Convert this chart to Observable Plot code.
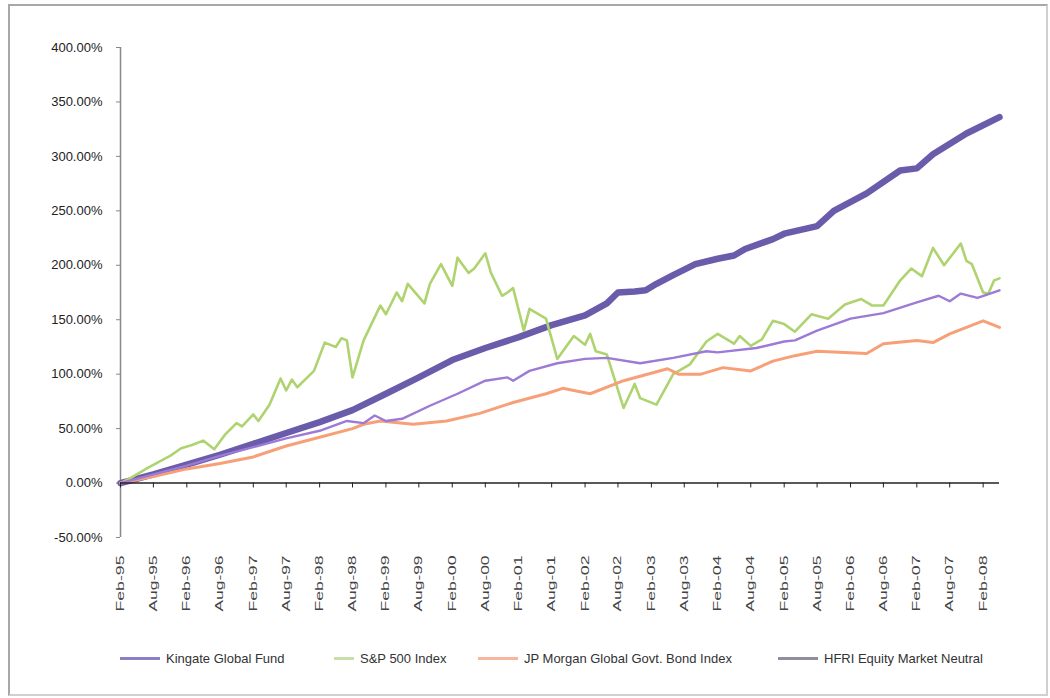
<!DOCTYPE html>
<html><head><meta charset="utf-8">
<script src="https://cdn.jsdelivr.net/npm/d3@7"></script>
<script src="https://cdn.jsdelivr.net/npm/@observablehq/plot@0.6"></script>
<style>
body{margin:0;background:#fff;font-family:"Liberation Sans",Arial,sans-serif;}
#frame{position:absolute;left:8px;top:4px;width:1040px;height:692px;border:2px solid #a8a8a8;border-right-color:#d0d0d0;border-bottom-color:#d0d0d0;box-sizing:border-box;}
#chart{position:absolute;left:0;top:0;}
#legend{position:absolute;top:648px;left:0;width:1050px;height:20px;font-size:13px;color:#333;}
.item{position:absolute;top:0;height:20px;display:flex;align-items:center;white-space:nowrap;}
.sw{display:inline-block;width:40px;height:0;border-top:3px solid;margin-right:6px;}
</style>
</head><body>
<div id="frame"></div>
<div id="chart"></div>
<div id="legend"></div>
<script>
// ---- data ----
const seriesNames = ["Kingate Global Fund","S&P 500 Index","JP Morgan Global Govt. Bond Index","HFRI Equity Market Neutral"];
const seriesColors = ["#6a5cab","#aed36f","#f7a077","#9c7ad6"];
const legendColors = ["#8a80c8","#c8dfa8","#f6b79c","#8e8e9e"];

const kingateMonths = ["1995-02","1995-08","1996-02","1996-08","1997-02","1997-08","1998-02","1998-08","1999-02","1999-08","2000-02","2000-08","2001-02","2001-08","2002-02","2002-06","2002-08","2002-11","2003-01","2003-03","2003-06","2003-10","2004-02","2004-05","2004-07","2004-12","2005-02","2005-08","2005-11","2006-05","2006-11","2007-02","2007-05","2007-11","2008-05"];
const kingateValues = [0,8,17,26,36,46,56,67,82,97,113,124,134,145,154,165,175,176,177,183,191,201,206,209,215,224,229,236,250,266,287,289,302,321,336];

const spMonths = ["1995-02","1995-04","1995-07","1995-11","1996-01","1996-03","1996-05","1996-07","1996-09","1996-11","1996-12","1997-02","1997-03","1997-05","1997-07","1997-08","1997-09","1997-10","1997-12","1998-01","1998-03","1998-05","1998-06","1998-07","1998-08","1998-10","1999-01","1999-02","1999-04","1999-05","1999-06","1999-09","1999-10","1999-12","2000-02","2000-03","2000-05","2000-06","2000-08","2000-09","2000-11","2000-12","2001-01","2001-03","2001-04","2001-07","2001-09","2001-12","2002-02","2002-03","2002-04","2002-06","2002-09","2002-11","2002-12","2003-03","2003-06","2003-09","2003-12","2004-02","2004-05","2004-06","2004-08","2004-10","2004-12","2005-02","2005-04","2005-07","2005-10","2006-01","2006-04","2006-06","2006-08","2006-11","2007-01","2007-03","2007-05","2007-07","2007-10","2007-11","2007-12","2008-02","2008-03","2008-04","2008-05"];
const spValues = [0,5,14,25,32,35,39,31,45,55,52,63,57,72,96,85,95,88,98,103,129,125,133,131,97,131,163,155,175,167,183,165,183,201,181,207,193,197,211,193,172,175,179,140,160,151,114,135,127,137,121,118,69,91,78,72,100,109,130,137,128,135,126,132,149,146,139,155,151,164,169,163,163,186,197,190,216,200,220,204,201,175,174,186,188];

const bondMonths = ["1995-02","1995-08","1996-02","1996-08","1997-02","1997-08","1998-02","1998-08","1998-10","1999-01","1999-07","2000-01","2000-07","2001-01","2001-07","2001-10","2002-02","2002-03","2002-09","2003-05","2003-07","2003-11","2004-03","2004-08","2004-12","2005-04","2005-08","2006-05","2006-08","2007-02","2007-05","2007-08","2008-02","2008-05"];
const bondValues = [0,6,13,18,24,34,42,50,54,57,54,57,64,74,82,87,83,82,94,105,100,100,106,103,112,117,121,119,128,131,129,137,149,143];

const hfriMonths = ["1995-02","1995-08","1996-02","1996-08","1997-02","1997-08","1998-02","1998-07","1998-10","1998-12","1999-02","1999-05","1999-10","2000-03","2000-08","2000-12","2001-01","2001-04","2001-09","2002-02","2002-06","2002-12","2003-06","2003-12","2004-02","2004-09","2005-02","2005-04","2005-08","2006-02","2006-08","2007-02","2007-06","2007-08","2007-10","2008-01","2008-05"];
const hfriValues = [0,8,16,25,33,41,48,57,55,62,57,59,71,82,94,97,94,103,110,114,115,110,115,121,120,124,130,131,140,151,156,166,172,167,174,170,177];

const xTickLabels = ["Feb-95","Aug-95","Feb-96","Aug-96","Feb-97","Aug-97","Feb-98","Aug-98","Feb-99","Aug-99","Feb-00","Aug-00","Feb-01","Aug-01","Feb-02","Aug-02","Feb-03","Aug-03","Feb-04","Aug-04","Feb-05","Aug-05","Feb-06","Aug-06","Feb-07","Aug-07","Feb-08"];
const yTicks = [-50,0,50,100,150,200,250,300,350,400];

// ---- build ----
const parse = d3.utcParse("%Y-%m");
const tickParse = d3.utcParse("%b-%y");
const toRows = (months, values) => months.map((m, i) => ({date: parse(m), value: values[i]}));
const kingate = toRows(kingateMonths, kingateValues);
const sp = toRows(spMonths, spValues);
const bond = toRows(bondMonths, bondValues);
const hfri = toRows(hfriMonths, hfriValues);
const tickDates = xTickLabels.map(tickParse);
const x0 = parse(kingateMonths[0]);
const x1 = parse(kingateMonths[kingateMonths.length - 1]);

const chart = Plot.plot({
  width: 1050,
  height: 630,
  marginLeft: 120,
  marginRight: 51,
  marginTop: 47,
  marginBottom: 93,
  style: {fontFamily: '"Liberation Sans", Arial, sans-serif', background: "transparent", color: "#222"},
  x: {type: "utc", domain: [x0, x1]},
  y: {domain: [-50, 400]},
  marks: [
    Plot.axisY({ticks: yTicks, tickFormat: d => d.toFixed(2) + "%", tickSize: 4, tickPadding: 14, fontSize: 13, label: null, stroke: "#888", fill: "#222"}),
    Plot.axisX({ticks: tickDates, tickFormat: (d, i) => xTickLabels[i], tickRotate: -90, tickSize: 0, tickPadding: 18, fontSize: 11, label: null, fill: "#444"}),
    Plot.ruleX([x0], {stroke: "#888", strokeWidth: 1.5}),
    Plot.line(kingate, {x: "date", y: "value", stroke: seriesColors[0], strokeWidth: 6.5, strokeLinejoin: "round"}),
    Plot.line(sp, {x: "date", y: "value", stroke: seriesColors[1], strokeWidth: 2.6, strokeLinejoin: "round"}),
    Plot.line(bond, {x: "date", y: "value", stroke: seriesColors[2], strokeWidth: 3, strokeLinejoin: "round"}),
    Plot.line(hfri, {x: "date", y: "value", stroke: seriesColors[3], strokeWidth: 2.4, strokeLinejoin: "round"}),
    Plot.ruleY([0], {stroke: "#222", strokeWidth: 1.5}),
    Plot.ruleX(tickDates, {x: d => d, y1: 0, y2: -4.5, stroke: "#222", strokeWidth: 1})
  ]
});
document.getElementById("chart").appendChild(chart);

// stretch the rotated x labels like the reference
d3.select(chart).selectAll('g[aria-label="x-axis tick label"] text')
  .attr("textLength", 56).attr("lengthAdjust", "spacingAndGlyphs");

// legend
const legendLeft = [120, 334, 478, 778];
const legend = document.getElementById("legend");
seriesNames.forEach((name, i) => {
  const item = document.createElement("div");
  item.className = "item";
  item.style.left = legendLeft[i] + "px";
  const sw = document.createElement("span");
  sw.className = "sw";
  sw.style.borderTopColor = legendColors[i];
  if (i === 1) sw.style.width = "20px";
  const t = document.createElement("span");
  t.textContent = name;
  item.appendChild(sw);
  item.appendChild(t);
  legend.appendChild(item);
});
</script>
</body></html>
